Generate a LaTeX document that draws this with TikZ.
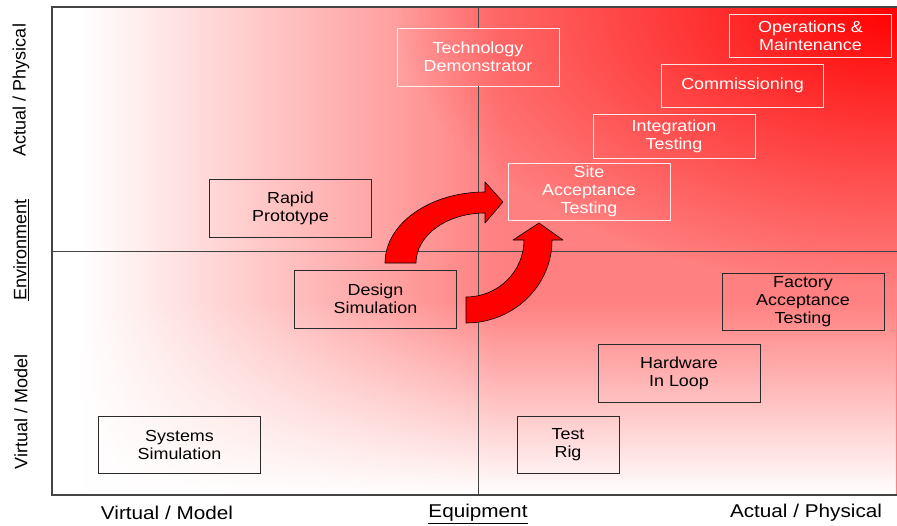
\documentclass[tikz,border=0pt]{standalone}
\usepackage{fontspec}
\setmainfont{Liberation Sans}[FakeStretch=1.12]
\newfontfamily\plainsans{Liberation Sans}
\usetikzlibrary{fadings}

\tikzfading[name=cornerfade, inner color=transparent!0, outer color=transparent!100]
\tikzfading[name=bottomfade, top color=transparent!100, bottom color=transparent!0]

\definecolor{framegray}{HTML}{444444}
\definecolor{boxline}{HTML}{2A2A2A}

\begin{document}
\begin{tikzpicture}[x=1pt,y=-1pt,
  redbox/.style={draw=white, draw opacity=0.85, line width=0.9pt, text=white, align=center, inner sep=0pt, font=\fontsize{16}{18}\selectfont},
  blackbox/.style={draw=boxline, line width=0.9pt, align=center, inner sep=0pt, font=\fontsize{16}{18}\selectfont},
  axislabel/.style={font=\fontsize{18.5}{20}\selectfont},
  sidelabel/.style={rotate=90, font=\plainsans\fontsize{18}{20}\selectfont},
  divider/.style={framegray, line width=0.9pt},
  bigarrow/.style={fill=red, draw=black, line width=0.6pt, line join=round}]
\useasboundingbox (0,0) rectangle (897,525);
% background
\begin{scope}
\clip (52,7) rectangle (897,495);
\fill[white] (52,7) rectangle (897,495);
\shade[left color=white, right color=red!50] (80,7) rectangle (500,495);
\fill[red!50] (500,7) rectangle (897,495);
\fill[red, path fading=cornerfade] (897,7) ellipse [x radius=500, y radius=280];
\fill[white, path fading=bottomfade] (52,300) rectangle (897,495);
\end{scope}
\draw[framegray, line width=1.2pt] (897,7) -- (52,7) -- (52,495) -- (897,495);
% stages
\begin{scope}[every node/.append style={minimum width=162}]
    \node[redbox, minimum height=58] (tech) at (478,57) {Technology\\Demonstrator};
    \node[redbox, minimum height=43] (ops) at (810.5,35.5) {Operations \&\\Maintenance};
    \node[redbox, minimum height=43] (comm) at (742.5,85.5) {Commissioning};
    \node[redbox, minimum height=44] (integ) at (674,136) {Integration\\Testing};
    \node[redbox, minimum height=57] (site) at (589,191.5) {Site\\Acceptance\\Testing};
    \node[blackbox, minimum height=58] (rapid) at (290.5,208) {Rapid\\Prototype};
    \node[blackbox, minimum height=58] (design) at (375.5,299) {Design\\Simulation};
    \node[blackbox, minimum height=57] (systems) at (179.5,444.5) {Systems\\Simulation};
    \node[blackbox, minimum height=57] (factory) at (803,301.5) {Factory\\Acceptance\\Testing};
    \node[blackbox, minimum height=58] (hil) at (679,373) {Hardware\\In Loop};
    \node[blackbox, minimum height=57, minimum width=102] (rig) at (568,444.5) {Test\\Rig};
\end{scope}
% quadrant lines
\coordinate (vtop) at (478,7);
\coordinate (vbot) at (478,495);
\coordinate (hleft) at (52,251);
\coordinate (hright) at (897,251);
\draw[divider] (vtop) -- (tech.north);
\draw[divider] (tech.south) -- (vbot);
\draw[divider] (hleft) -- (hright);
% curved arrows
\draw[bigarrow] (385,263) arc[start angle=180, end angle=270, x radius=100, y radius=71]
    -- (485,182) -- (503,202) -- (485,223) -- (485,213)
    arc[start angle=270, end angle=180, x radius=69, y radius=50] -- cycle;
\draw[bigarrow] (466,323) arc[start angle=90, end angle=0, x radius=86, y radius=83]
    -- (563,240) -- (539,223) -- (513,240) -- (524,240)
    arc[start angle=0, end angle=90, x radius=58, y radius=57] -- cycle;
% axis labels
\node[sidelabel] (ytop) at (21,90) {Actual / Physical};
\node[sidelabel] (ymid) at (21,250) {\underline{Environment}};
\node[sidelabel] (ybot) at (21,412) {Virtual / Model};
\node[axislabel] (xleft) at (167,513) {Virtual / Model};
\node[axislabel] (xmid) at (478,514) {\underline{Equipment}};
\node[axislabel] (xright) at (806,513) {Actual / Physical};
\end{tikzpicture}
\end{document}
